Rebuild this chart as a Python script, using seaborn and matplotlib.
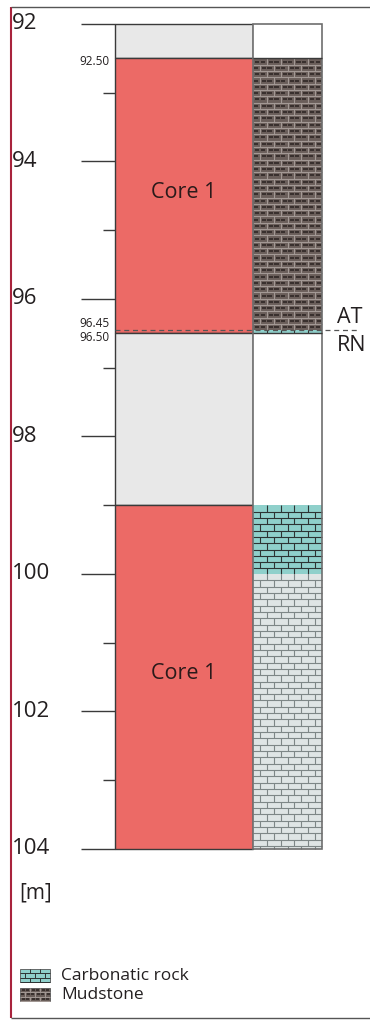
import numpy as np
import seaborn as sns
import matplotlib.pyplot as plt

# core recovery column (depth in m)
core_top = [92.0, 92.5, 96.5, 99.0]
core_base = [92.5, 96.5, 99.0, 104.0]
core_kind = ['gap', 'core', 'gap', 'core']
core_label = ['', 'Core 1', '', 'Core 1']
core_label_depth = [None, 94.45, None, 101.45]

# lithology column
litho_top = [92.0, 92.5, 96.45, 96.5, 99.0, 100.0]
litho_base = [92.5, 96.45, 96.5, 99.0, 100.0, 104.0]
litho_kind = ['none', 'Mudstone', 'Carbonatic rock', 'none', 'Carbonatic rock', 'Carbonatic rock pale']

depth_ticks = list(range(92, 105))
depth_labels = [92, 94, 96, 98, 100, 102, 104]

# depth marks written beside the core column
mark_depth = [92.50, 96.45, 96.50]
mark_text = ['92.50', '96.45', '96.50']

boundary_depth = 96.45
boundary_above = 'AT'
boundary_below = 'RN'

legend_names = ['Carbonatic rock', 'Mudstone']

sns.set_theme(style='white')
plt.rcParams['font.family'] = ['Open Sans', 'DejaVu Sans']
INK = '#231f20'

W, H = 370, 1021
Y0, PXM = 24, 68.75          # pixel row of 92 m, pixels per metre


def d(ypx):
    return 92 + (ypx - Y0) / PXM


COL1 = (115, 253)
COL2 = (253, 322)

core_colors = {'core': '#ec6a66', 'gap': '#e8e8e8'}
litho_style = {
    'none': dict(fill='white', line=None, dash=None),
    'Mudstone': dict(fill='#6a5e5a', line='#a39995', dash='#2b2321'),
    'Carbonatic rock': dict(fill='#8fd0cb', line='#2d3333', dash=None),
    'Carbonatic rock pale': dict(fill='#dfe5e5', line='#7e8787', dash=None),
}


def bricks(ax, x0, x1, top, base, style, row=0.092, n=5, lw=0.8):
    if style['line'] is None:
        return
    w = (x1 - x0) / n
    ys = np.arange(top, base - 1e-6, row)
    ax.hlines(ys[1:], x0, x1, colors=style['line'], lw=lw, zorder=3)
    for i, y in enumerate(ys):
        yb = min(y + row, base)
        off = 0 if i % 2 == 0 else w / 2
        xs = np.arange(x0 + off, x1 - 1e-6, w)
        xs = xs[xs > x0 + 0.5]
        ax.vlines(xs, y, yb, colors=style['line'], lw=lw, zorder=3)
        if style['dash'] is not None and y + row / 2 < base:
            starts = np.arange(x0 + off - w, x1, w)
            for s in starts:
                for a, b in ((0.15, 0.45), (0.55, 0.85)):
                    xa, xb = max(s + a * w, x0), min(s + b * w, x1)
                    if xb > xa:
                        ax.hlines(y + row / 2, xa, xb, colors=style['dash'], lw=1.1, zorder=3)


fig = plt.figure(figsize=(W / 100, H / 100), dpi=100)
ax = fig.add_axes([0, 0, 1, 1])
ax.set_xlim(0, W)
ax.set_ylim(d(H), d(0))
ax.axis('off')

# core column
c1 = (COL1[0] + COL1[1]) / 2
ax.bar([c1] * len(core_top), np.subtract(core_base, core_top), bottom=core_top,
       width=COL1[1] - COL1[0], color=[core_colors[k] for k in core_kind],
       edgecolor='#3a3a3a', lw=1, zorder=2)
for lab, dep in zip(core_label, core_label_depth):
    if lab:
        ax.text(c1, dep, lab, ha='center', va='center', fontsize=15.5, color='#2a1a1a', zorder=5)

# lithology column
c2 = (COL2[0] + COL2[1]) / 2
ax.bar([c2] * len(litho_top), np.subtract(litho_base, litho_top), bottom=litho_top,
       width=COL2[1] - COL2[0], color=[litho_style[k]['fill'] for k in litho_kind],
       edgecolor='none', lw=0, zorder=2)
for t, b, k in zip(litho_top, litho_base, litho_kind):
    bricks(ax, COL2[0], COL2[1], t, b, litho_style[k])
ax.bar([c2], [depth_ticks[-1] - depth_ticks[0]], bottom=[depth_ticks[0]],
       width=COL2[1] - COL2[0], fill=False, edgecolor='#6e6e6e', lw=1.2, zorder=4)
ax.hlines(litho_top[1], COL2[0], COL2[1], colors='#3a3a3a', lw=1, zorder=4)
ax.hlines(litho_top[3], COL2[0], COL2[1], colors='#3a3a3a', lw=1, zorder=4)

# depth scale
for dep in depth_ticks:
    x_start = 81 if dep in depth_labels else 103
    ax.hlines(dep, x_start, COL1[0], colors='#3a3a3a', lw=1, zorder=4)
for dep in depth_labels:
    ax.text(12, dep, str(dep), ha='left', va='center', fontsize=16, color=INK)
ax.text(19, d(893), '[m]', ha='left', va='center', fontsize=15, color=INK)

# depth marks
ax.text(110, mark_depth[0] + 0.04, mark_text[0], ha='right', va='center', fontsize=8.5, color=INK)
ax.text(110, mark_depth[1] - 0.1, mark_text[1], ha='right', va='center', fontsize=8.5, color=INK)
ax.text(110, mark_depth[2] + 0.06, mark_text[2], ha='right', va='center', fontsize=8.5, color=INK)

# formation boundary
ax.hlines(boundary_depth, COL1[0], 360, colors='#555555', lw=0.9, linestyles=(0, (4, 3)), zorder=5)
ax.text(337, boundary_depth - 0.03, boundary_above, ha='left', va='bottom', fontsize=15.5, color=INK)
ax.text(337, boundary_depth + 0.07, boundary_below, ha='left', va='top', fontsize=15.5, color=INK)

# legend
for i, name in enumerate(legend_names):
    ytop = d(969 + i * 19)
    ybot = d(982 + i * 19)
    st = litho_style[name]
    ax.bar([35], [ybot - ytop], bottom=[ytop], width=30, color=st['fill'],
           edgecolor='#555555', lw=0.6, zorder=2)
    bricks(ax, 20, 50, ytop, ybot, st, row=0.062, n=3, lw=0.7)
    ax.text(61, (ytop + ybot) / 2, name, ha='left', va='center', fontsize=12.5, color=INK)

# frame
ax.vlines(11, d(7), d(1018), colors='#a8233c', lw=1.5, zorder=6)
ax.hlines([d(7), d(1018)], 11, W, colors='#555555', lw=1, zorder=6)

fig.savefig('out.png', dpi=100)
